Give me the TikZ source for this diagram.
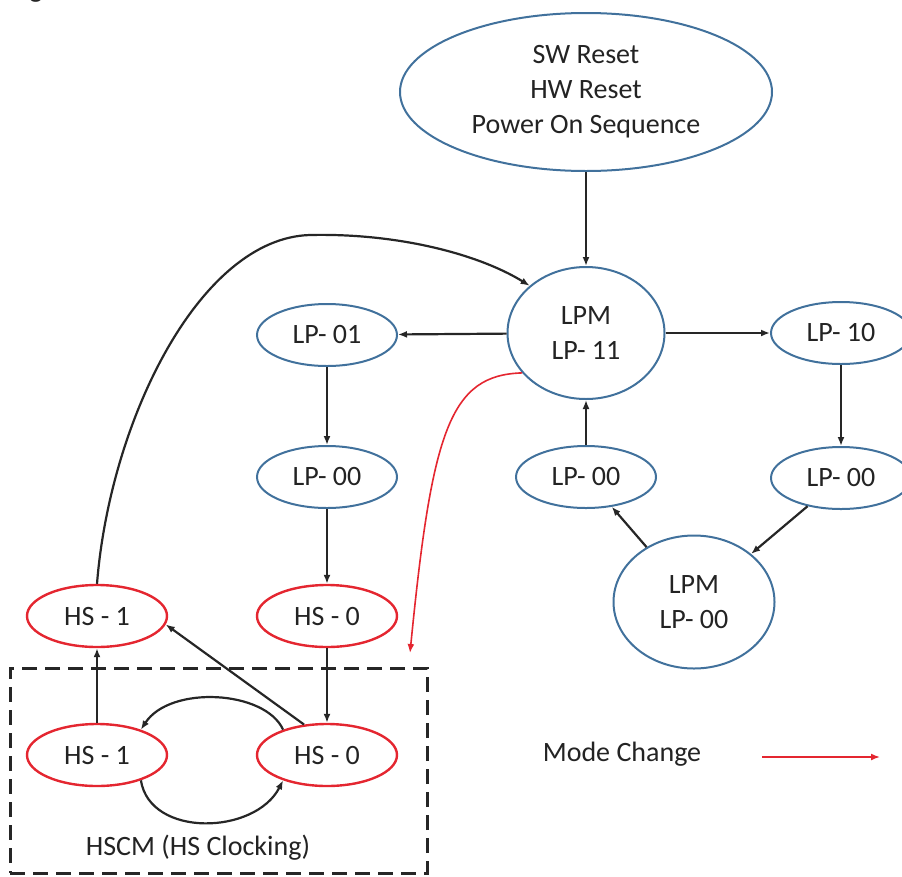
\documentclass[tikz,border=0pt]{standalone}
\usepackage{fontspec}
\setmainfont{Carlito}
\usetikzlibrary{shapes.geometric,arrows.meta}
\definecolor{stblue}{RGB}{65,113,156}
\definecolor{stred}{RGB}{228,38,48}
\definecolor{sttext}{RGB}{35,35,35}
\begin{document}
\begin{tikzpicture}[x=1pt,y=-1pt,
  txt/.style={font=\fontsize{28}{35}\selectfont,text=sttext,align=center,inner sep=0pt},
  st/.style={txt,ellipse,draw=stblue,line width=2pt,minimum width=140pt,minimum height=62pt},
  hs/.style={st,draw=stred,line width=2.4pt},
  conn/.style={line width=2.2pt,draw=black!85,-{Latex[length=9pt,width=7pt]}},
  redconn/.style={conn,draw=stred,line width=1.6pt},
  hsbox/.style={draw=black!85,line width=3pt,dash pattern=on 15pt off 8pt,inner sep=0pt}
]
\useasboundingbox (0,0) rectangle (902,876);
\node[txt,anchor=base] (frag) at (36,-3) {g};

\node[st,minimum width=372pt,minimum height=158pt] (reset) at (586,92) {SW Reset\\HW Reset\\Power On Sequence};
\node[st,minimum width=157pt,minimum height=132pt] (lp11) at (586,333) {LPM\\LP- 11};
\node[st] (lp01) at (327,335) {LP- 01};
\node[st] (lp10) at (841,333) {LP- 10};
\node[st] (lp00a) at (327,477) {LP- 00};
\node[st] (lp00b) at (586,477) {LP- 00};
\node[st] (lp00c) at (841,478) {LP- 00};
\node[st,minimum width=161pt,minimum height=133pt] (lpm00) at (694,602) {LPM\\LP- 00};

\node[hs] (hs1t) at (97,616) {HS - 1};
\node[hs] (hs0t) at (327,616) {HS - 0};
\node[hs] (hs1b) at (97,755) {HS - 1};
\node[hs] (hs0b) at (327,755) {HS - 0};

\node[hsbox,minimum width=417pt,minimum height=205pt] (hscm) at (218.5,770.5) {};
\node[txt] (hscmlabel) at (198,848) {HSCM (HS Clocking)};

\node[txt] (modelabel) at (622,754) {Mode Change};
\coordinate (m1) at (762,757);
\coordinate (m2) at (880,757);
\draw[redconn] (m1) -- (m2);

% connectors
\draw[conn] (reset) -- (lp11);
\draw[conn] (lp11) -- (lp01);
\draw[conn] (lp11) -- (lp10);
\draw[conn] (lp01) -- (lp00a);
\draw[conn] (lp00a) -- (hs0t);
\draw[conn] (lp10) -- (lp00c);
\draw[conn] (lp00c) -- (lpm00);
\draw[conn] (lpm00) -- (lp00b);
\draw[conn] (lp00b) -- (lp11);
\draw[conn] (hs0t) -- (hs0b);
\draw[conn] (hs1b) -- (hs1t);
\draw[conn] (hs0b.127) -- (hs1t.-7);
\draw[conn] (hs0b.150) .. controls (265,690) and (170,685) .. (hs1b.30);
\draw[conn] (hs1b.-30) .. controls (150,838) and (255,835) .. (hs0b.210);
\draw[conn] (hs1t.north) .. controls (110,420) and (200,238) .. (310,235)
   .. controls (400,233) and (480,255) .. (lp11.140);

\coordinate (mcend) at (410,653);
\draw[redconn] (lp11.212) .. controls (450,375) and (432,430) .. (mcend);
\end{tikzpicture}
\end{document}
